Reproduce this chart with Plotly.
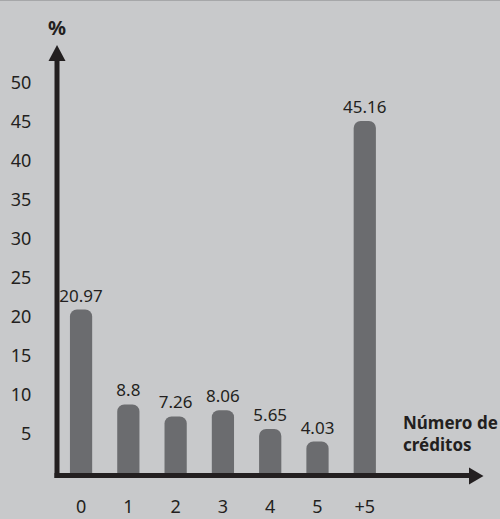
import plotly.graph_objects as go

categories = ["0", "1", "2", "3", "4", "5", "+5"]
values = [20.97, 8.8, 7.26, 8.06, 5.65, 4.03, 45.16]
value_labels = ["20.97", "8.8", "7.26", "8.06", "5.65", "4.03", "45.16"]
y_ticks = [5, 10, 15, 20, 25, 30, 35, 40, 45, 50]

BG = "#c8c9cb"
BAR = "#6b6c6f"
INK = "#231f20"
FONT = "Noto Sans"

W, H = 500, 519
L, R, T, B = 56, 17, 45, 44
PW, PH = W - L - R, H - T - B


def px(xp):
    return (xp - L) / PW


def py(yp):
    return (H - B - yp) / PH


fig = go.Figure(
    go.Bar(
        x=list(range(len(categories))),
        y=values,
        text=value_labels,
        textposition="outside",
        constraintext="none",
        textfont=dict(family=FONT, size=17, color=INK),
        marker=dict(color=BAR, cornerradius=7, line=dict(width=0)),
        width=0.47,
        cliponaxis=False,
        hoverinfo="skip",
    )
)

shapes = [
    # y axis line
    dict(type="line", xref="paper", yref="paper", x0=px(57), x1=px(57),
         y0=py(478), y1=py(58), line=dict(color=INK, width=5)),
    # x axis line
    dict(type="line", xref="paper", yref="paper", x0=px(54.5), x1=px(472),
         y0=py(475.5), y1=py(475.5), line=dict(color=INK, width=5)),
    # y arrow head
    dict(type="path", xref="paper", yref="paper", fillcolor=INK, line=dict(width=0),
         path=f"M {px(48.5)},{py(61)} L {px(65.5)},{py(61)} L {px(57)},{py(45)} Z"),
    # x arrow head
    dict(type="path", xref="paper", yref="paper", fillcolor=INK, line=dict(width=0),
         path=f"M {px(469)},{py(467.5)} L {px(469)},{py(484.5)} L {px(483.5)},{py(476)} Z"),
    # thin top border
    dict(type="line", xref="paper", yref="paper", x0=px(0), x1=px(500),
         y0=py(0.5), y1=py(0.5), line=dict(color="#a6a7a9", width=1)),
]

annotations = [
    dict(text="%", xref="paper", yref="paper", x=px(57), y=py(27),
         xanchor="center", yanchor="middle", showarrow=False,
         font=dict(family=FONT, size=20, color=INK, weight="bold")),
    dict(text="Número de<br>créditos", xref="paper", yref="paper", x=px(401), y=py(409),
         xanchor="left", yanchor="top", align="left", showarrow=False,
         font=dict(family=FONT, size=17, color=INK, weight="bold")),
]

fig.update_layout(
    width=W, height=H,
    margin=dict(l=L, r=R, t=T, b=B, pad=0, autoexpand=False),
    paper_bgcolor=BG, plot_bgcolor=BG,
    showlegend=False,
    shapes=shapes,
    annotations=annotations,
    xaxis=dict(
        range=[-0.53, 8.5],
        tickmode="array",
        tickvals=list(range(len(categories))),
        ticktext=categories,
        showgrid=False, zeroline=False, showline=False,
        ticks="outside", ticklen=15, tickcolor="rgba(0,0,0,0)",
        tickfont=dict(family=FONT, size=18, color=INK),
        automargin=False,
        fixedrange=True,
    ),
    yaxis=dict(
        range=[-2 / 7.76, (H - B - 2 - T) / 7.76 - 2 / 7.76],
        tickmode="array",
        tickvals=y_ticks,
        showgrid=False, zeroline=False, showline=False,
        ticks="outside", ticklen=20, tickcolor="rgba(0,0,0,0)",
        tickfont=dict(family=FONT, size=18, color=INK),
        automargin=False,
        fixedrange=True,
    ),
)

fig.write_html("out.html")
